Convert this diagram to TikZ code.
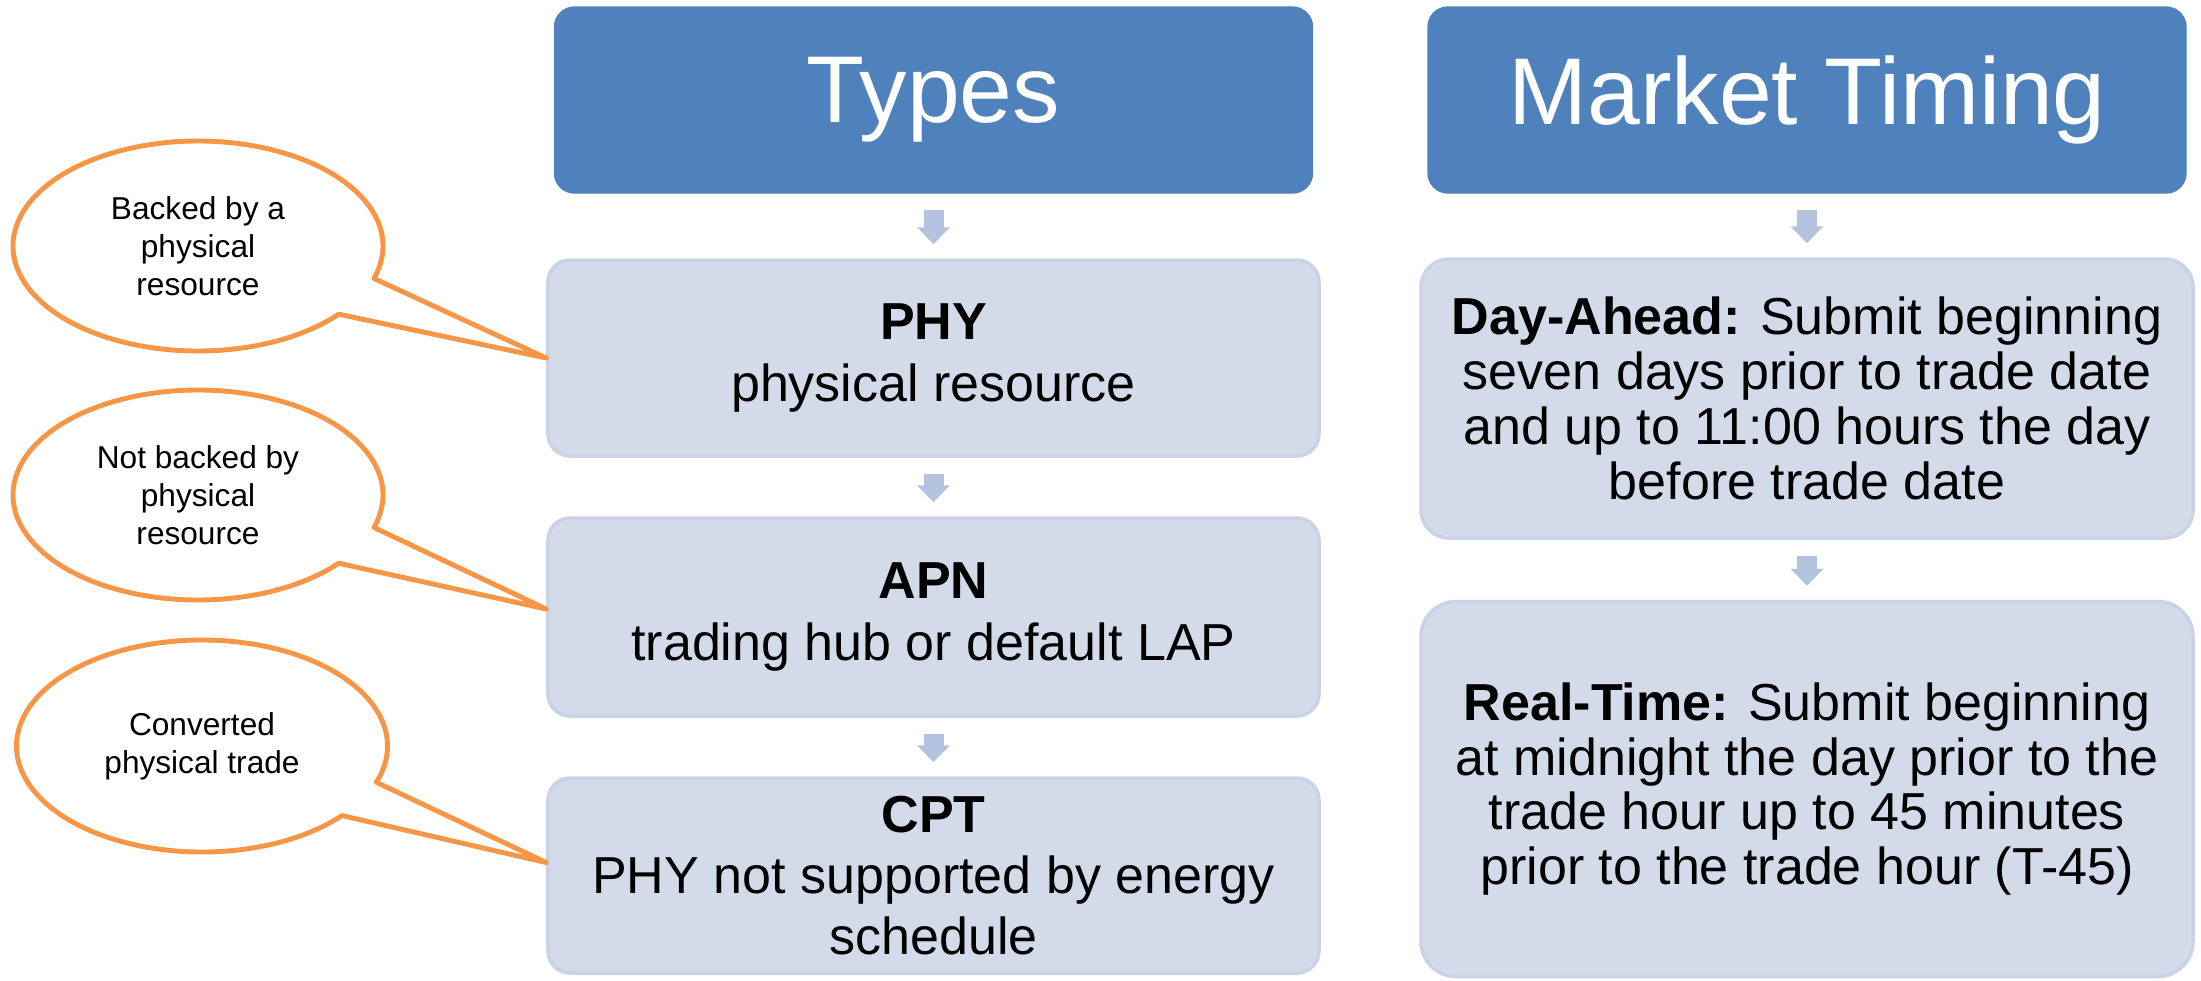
\documentclass[tikz,border=0pt]{standalone}
\usepackage{fontspec}
\setmainfont{Liberation Sans}
\usetikzlibrary{arrows.meta,calc,positioning}

\definecolor{headblue}{HTML}{4F81BD}
\definecolor{boxfill}{HTML}{D3DBEA}
\definecolor{boxline}{HTML}{C9D3E6}
\definecolor{arrowblue}{HTML}{B2C2DF}
\definecolor{bubbleline}{HTML}{F79646}

\tikzset{
  header/.style={fill=headblue, draw=headblue, rounded corners=0.2cm,
    minimum width=7.58cm, minimum height=1.86cm, text=white,
    font=\fontsize{27}{30}\selectfont},
  item/.style={fill=boxfill, draw=boxline, line width=1pt, rounded corners=0.22cm,
    minimum width=7.71cm, align=center, font=\fontsize{14.8}{17.4}\selectfont},
  timing/.style={item, minimum width=7.72cm, font=\fontsize{14.8}{15.6}\selectfont},
  flowarrow/.style={draw=arrowblue, line width=0.2cm,
    -{Triangle[width=0.32cm,length=0.17cm]}, shorten <=0.16cm, shorten >=0.14cm},
  bubble/.style={draw=bubbleline, line width=1.4pt, fill=white, line join=round},
  bubbletext/.style={align=center, font=\fontsize{9}{10.9}\selectfont}
}

\begin{document}
\begin{tikzpicture}
\useasboundingbox (0,0) rectangle (22.01,-9.80);

% left column: bid types
\node[header] (types) at (9.335,-1.00) {Types};
\node[item, minimum height=1.96cm] (phy) at (9.335,-3.58) {\textbf{PHY}\\physical resource};
\node[item, minimum height=1.98cm] (apn) at (9.335,-6.17) {\textbf{APN}\\trading hub or default LAP};
\node[item, minimum height=1.95cm] (cpt) at (9.335,-8.755) {\textbf{CPT}\\PHY not supported by energy\\schedule};

% right column: market timing
\node[header] (timing) at (18.07,-1.00) {Market Timing};
\node[timing, minimum height=2.79cm, rounded corners=0.28cm] (dayahead) at (18.07,-3.985)
  {\textbf{Day-Ahead:} Submit beginning\\seven days prior to trade date\\and up to 11:00 hours the day\\before trade date};
\node[timing, minimum height=3.75cm, rounded corners=0.35cm] (realtime) at (18.07,-7.89)
  {\textbf{Real-Time:} Submit beginning\\at midnight the day prior to the\\trade hour up to 45 minutes\\prior to the trade hour (T-45)};

\foreach \a/\b in {types/phy, phy/apn, apn/cpt, timing/dayahead, dayahead/realtime}
    \draw[flowarrow] (\a) -- (\b);

% speech bubbles pointing at the type boxes
\coordinate (b1) at (1.98,-2.46);
\coordinate (b2) at (1.98,-4.95);
\coordinate (b3) at (2.02,-7.46);
\coordinate (tip1) at (phy.west);
\coordinate (tip2) at ($(apn.west)+(0,0.08)$);
\coordinate (tip3) at ($(cpt.west)+(0,0.13)$);

\draw[bubble] (b1) ++(-18:1.85cm and 1.05cm)
  arc[start angle=-18, end angle=319.5, x radius=1.85cm, y radius=1.05cm] -- (tip1) -- cycle;
\draw[bubble] (b2) ++(-18:1.85cm and 1.05cm)
  arc[start angle=-18, end angle=319.5, x radius=1.85cm, y radius=1.05cm] -- (tip2) -- cycle;
\draw[bubble] (b3) ++(-20:1.855cm and 1.06cm)
  arc[start angle=-20, end angle=319, x radius=1.855cm, y radius=1.06cm] -- (tip3) -- cycle;

\node[bubbletext] (backed) at (b1) {Backed by a\\physical\\resource};
\node[bubbletext] (notbacked) at (b2) {Not backed by\\physical\\resource};
\node[bubbletext] (converted) at (b3) {Converted\\physical trade};
\end{tikzpicture}
\end{document}
